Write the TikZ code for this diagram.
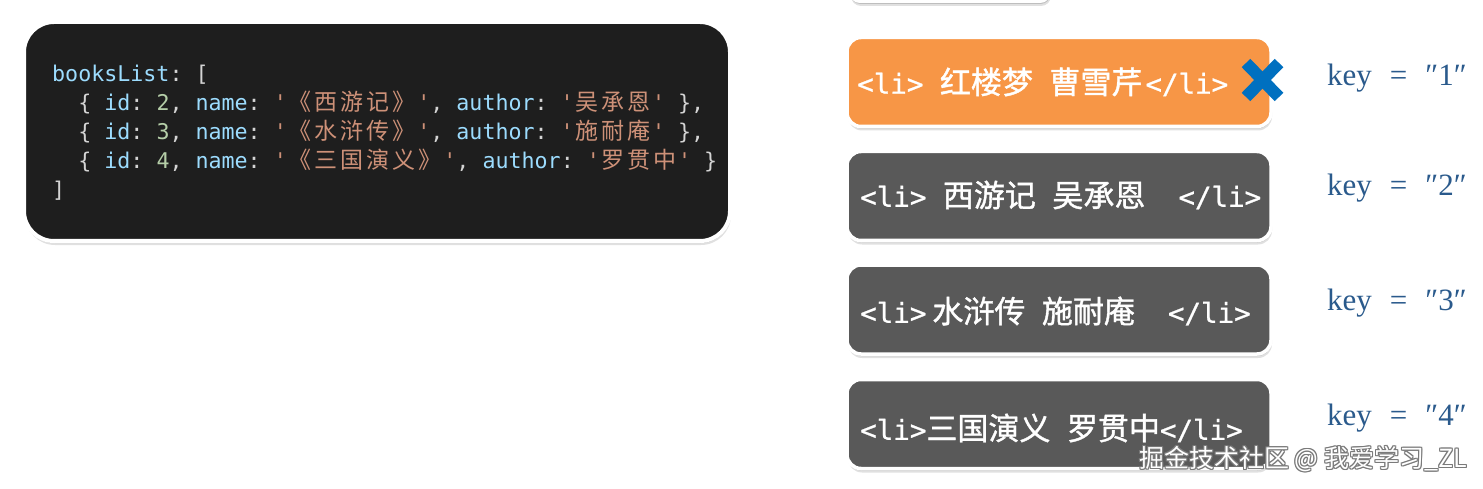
\documentclass[tikz,border=0pt]{standalone}
\usepackage{fontspec}
\newfontfamily\cjk{Noto Sans CJK SC}
\newfontfamily\cjkb{Noto Sans CJK SC}[FakeBold=1.2]
\newfontfamily\mono{DejaVu Sans Mono}[Ligatures=TeXOff]
\newfontfamily\monob{DejaVu Sans Mono}[Ligatures=TeXOff, FakeBold=0.8]
\newfontfamily\keyf{Liberation Serif}
\usetikzlibrary{shadows}
\frenchspacing
\definecolor{codebg}{HTML}{1E1E1E}
\definecolor{prop}{HTML}{9CDCFE}
\definecolor{num}{HTML}{B5CEA8}
\definecolor{str}{HTML}{CE9178}
\definecolor{punc}{HTML}{D4D4D4}
\definecolor{liorange}{HTML}{F79646}
\definecolor{ligrey}{HTML}{595959}
\definecolor{xblue}{HTML}{0070C0}
\definecolor{keyblue}{HTML}{2A5A8C}
\definecolor{wmgrey}{HTML}{7A7A7A}
% code helpers
\newcommand\cc[1]{\makebox[26.1pt]{\cjk\fontsize{23}{23}\selectfont #1}}
\newcommand\pu[1]{\textcolor{punc}{#1}}
\newcommand\pr[1]{\textcolor{prop}{#1}}
\newcommand\nm[1]{\textcolor{num}{#1}}
\newcommand\st[1]{\textcolor{str}{#1}}
\newcommand\ind{\hspace*{26.1pt}}
% box text helpers
\newcommand\bc[1]{{\cjkb\fontsize{31}{31}\selectfont #1}}
\newcommand\bsp{\hspace*{16.5pt}}
\tikzset{
  softshadow/.style={general shadow={shadow xshift=1pt, shadow yshift=-4pt, fill=black, opacity=0.12},
                     general shadow={shadow xshift=0.5pt, shadow yshift=-2pt, fill=black, opacity=0.15}},
  codebox/.style={draw=white, line width=4pt, fill=codebg, rounded corners=30pt, inner sep=0pt, softshadow},
  libox/.style={draw=white, line width=3.5pt, rounded corners=14pt, inner sep=0pt,
                minimum width=424pt, minimum height=89pt, softshadow},
  codeline/.style={anchor=base west, inner sep=0pt, font=\mono\fontsize{21.65}{22}\selectfont},
  litext/.style={anchor=west, inner sep=0pt, text=white, font=\monob\fontsize{27.5}{28}\selectfont},
  keylabel/.style={anchor=west, inner sep=0pt, text=keyblue, font=\keyf\fontsize{31}{31}\selectfont},
  xline/.style={line width=12pt, draw=xblue},
  wm/.style={inner sep=0pt, font=\cjk\fontsize{25}{25}\selectfont}
}
\begin{document}
\begin{tikzpicture}[x=1pt,y=-1pt]
\useasboundingbox[fill=white] (0,0) rectangle (1483,489);
% partially visible box at top
\node[draw=white, fill=white, line width=2pt, rounded corners=10pt, minimum width=200pt, minimum height=40pt, softshadow] (topbox) at (950,-18) {};
% code box
\node[codebox, minimum width=706pt, minimum height=219pt] (code) at (377,131.5) {};
\node[codeline] (c1) at (52,82) {\pr{booksList}\pu{: [}};
\node[codeline] (c2) at (52,111) {\ind\pu{\{ }\pr{id}\pu{: }\nm{2}\pu{, }\pr{name}\pu{: }\st{'\cc{《}\cc{西}\cc{游}\cc{记}\cc{》}'}\pu{, }\pr{author}\pu{: }\st{'\cc{吴}\cc{承}\cc{恩}'}\pu{\ \},}};
\node[codeline] (c3) at (52,140) {\ind\pu{\{ }\pr{id}\pu{: }\nm{3}\pu{, }\pr{name}\pu{: }\st{'\cc{《}\cc{水}\cc{浒}\cc{传}\cc{》}'}\pu{, }\pr{author}\pu{: }\st{'\cc{施}\cc{耐}\cc{庵}'}\pu{\ \},}};
\node[codeline] (c4) at (52,169) {\ind\pu{\{ }\pr{id}\pu{: }\nm{4}\pu{, }\pr{name}\pu{: }\st{'\cc{《}\cc{三}\cc{国}\cc{演}\cc{义}\cc{》}'}\pu{, }\pr{author}\pu{: }\st{'\cc{罗}\cc{贯}\cc{中}'}\pu{\ \}}};
\node[codeline] (c5) at (52,198) {\pu{]}};
% li boxes
\node[libox, fill=liorange] (b1) at (1059,82) {};
\node[libox, fill=ligrey] (b2) at (1059,196) {};
\node[libox, fill=ligrey] (b3) at (1059,309.5) {};
\node[libox, fill=ligrey] (b4) at (1059,424) {};
\node[litext] (t1) at (857,82) {<li>\bsp\bc{红楼梦}\bsp\bc{曹雪芹}\hspace*{3pt}</li>};
\node[litext] (t2) at (860,195) {<li>\bsp\bc{西游记}\bsp\bc{吴承恩}\bsp\bsp</li>};
\node[litext] (t3) at (860,311) {<li>\hspace*{6pt}\bc{水浒传}\bsp\bc{施耐庵}\bsp\bsp</li>};
\node[litext] (t4) at (860,428) {<li>\bc{三国演义}\bsp\bc{罗贯中}</li>};
% blue cross
\draw[xline] (1246,63) -- (1279,97);
\draw[xline] (1246,97) -- (1279,63);
% keys
\node[keylabel] (k1) at (1327,78) {key\hspace{18pt}=\hspace{18pt}″1″};
\node[keylabel] (k2) at (1327,188) {key\hspace{18pt}=\hspace{18pt}″2″};
\node[keylabel] (k3) at (1327,303) {key\hspace{18pt}=\hspace{18pt}″3″};
\node[keylabel] (k4) at (1327,418) {key\hspace{18pt}=\hspace{18pt}″4″};
% watermark
\foreach \dx/\dy [count=\i] in {-1/0,1/0,0/-1,0/1,-1/-1,1/1,-1/1,1/-1}
  \node[wm, text=wmgrey] (wmo\i) at (1303+\dx,459+\dy) {掘金技术社区 @ 我爱学习\_ZL};
\node[wm, text=white] (wm) at (1303,459) {掘金技术社区 @ 我爱学习\_ZL};
\end{tikzpicture}
\end{document}
